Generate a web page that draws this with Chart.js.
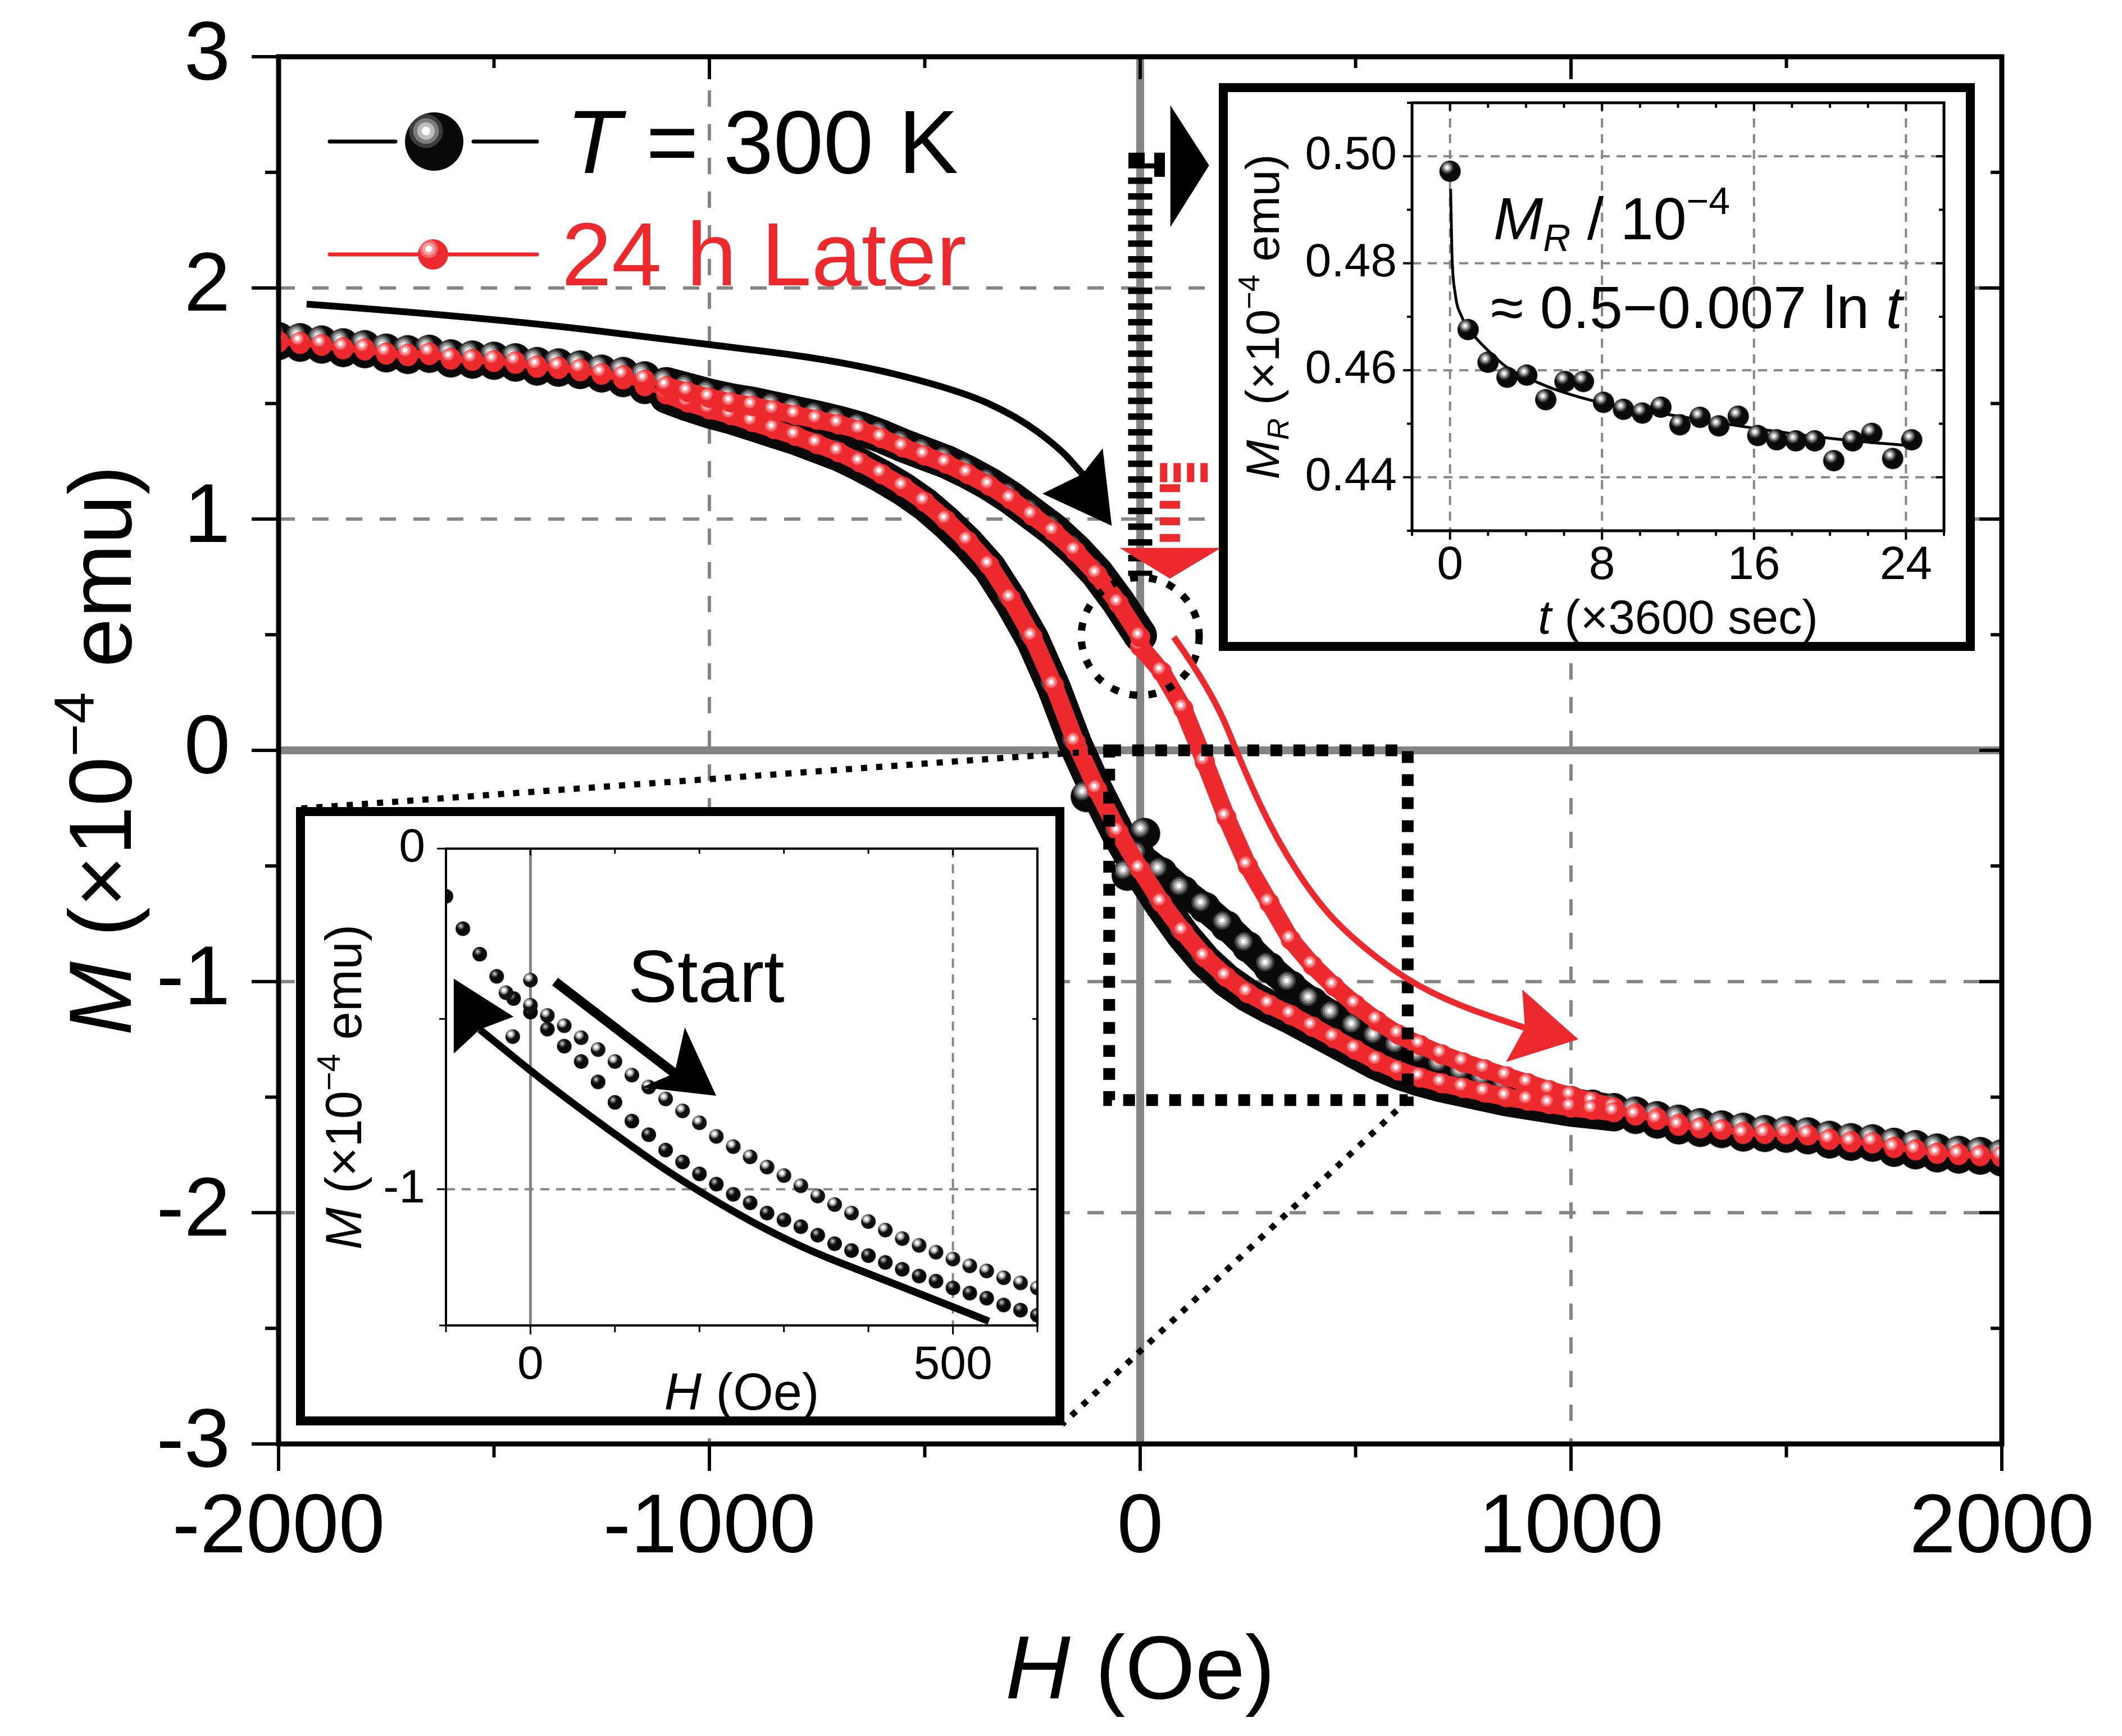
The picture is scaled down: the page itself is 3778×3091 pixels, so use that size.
<!DOCTYPE html>
<html>
<head>
<meta charset="utf-8">
<title>M-H loop at 300 K and 24 h later</title>
<script src="https://cdn.jsdelivr.net/npm/chart.js@4.4.1/dist/chart.umd.min.js"></script>
<style>
  html, body { margin: 0; padding: 0; background: #fff; }
  #wrap { position: relative; width: 3778px; height: 3091px; overflow: hidden; background: #fff; }
  canvas { position: absolute; }
</style>
</head>
<body>
<div id="wrap">
  <canvas id="main" width="3778" height="3091" style="left:0;top:0"></canvas>
  <canvas id="decay" width="1346" height="1011" style="left:2170px;top:148px"></canvas>
  <canvas id="zoomIn" width="1368" height="1101" style="left:527px;top:1437px"></canvas>
</div>
<script>
const FONT = "'Liberation Sans', Arial, Helvetica, sans-serif";
const RED = '#ec2a2d';
const GRID = '#858585';

// ---- main loop: field H (Oe) and moment M (x1e-4 emu) ----
const fieldSweep = [-2000, -1950, -1900, -1850, -1800, -1750, -1700, -1650, -1600, -1550,
  -1500, -1450, -1400, -1350, -1300, -1250, -1200, -1150, -1100, -1050,
  -1000, -950, -900, -850, -800, -750, -700, -650, -600, -550,
  -500, -450, -400, -350, -300, -250, -200, -150, -100, -50,
  0,
  50, 100, 150, 200, 250, 300, 350, 400, 450, 500,
  550, 600, 650, 700, 750, 800, 850, 900, 950, 1000,
  1050, 1100, 1150, 1200, 1250, 1300, 1350, 1400, 1450, 1500,
  1550, 1600, 1650, 1700, 1750, 1800, 1850, 1900, 1950, 2000];

// T = 300 K, return branch (swept 2000 -> -2000), listed by ascending H
const blackLowerM = [1.755, 1.748, 1.74, 1.725, 1.72, 1.702, 1.695, 1.7, 1.68, 1.675,
  1.67, 1.662, 1.645, 1.64, 1.63, 1.615, 1.595, 1.565, 1.53, 1.495,
  1.465, 1.44, 1.41, 1.38, 1.35, 1.315, 1.28, 1.235, 1.185, 1.13,
  1.065, 0.985, 0.895, 0.79, 0.645, 0.48, 0.27, 0.025, -0.18, -0.365,
  -0.525,
  -0.67, -0.8, -0.91, -0.995, -1.06, -1.11, -1.155, -1.205, -1.255, -1.305,
  -1.355, -1.395, -1.425, -1.45, -1.47, -1.49, -1.51, -1.525, -1.54, -1.555,
  -1.565, -1.575, -1.592, -1.612, -1.637, -1.648, -1.653, -1.668, -1.67, -1.673,
  -1.68, -1.698, -1.708, -1.712, -1.734, -1.745, -1.758, -1.763, -1.768, -1.776];
// T = 300 K, upper branch H = -2000 .. 0 (ends at the remanence point)
const blackUpperM = [1.785, 1.78, 1.77, 1.758, 1.75, 1.735, 1.728, 1.73, 1.71, 1.705,
  1.7, 1.693, 1.677, 1.671, 1.662, 1.644, 1.634, 1.615, 1.585, 1.56,
  1.535, 1.515, 1.5, 1.48, 1.46, 1.44, 1.418, 1.392, 1.358, 1.318,
  1.283, 1.248, 1.203, 1.152, 1.092, 1.022, 0.952, 0.866, 0.766, 0.64,
  0.497];
// T = 300 K, first sweep H = 0 .. 2000
const blackInitialM = [-0.46, -0.53, -0.61, -0.68, -0.76, -0.85, -0.94, -1.02, -1.09, -1.15,
  -1.205, -1.25, -1.29, -1.33, -1.37, -1.405, -1.43, -1.455, -1.48, -1.5,
  -1.52, -1.535, -1.55, -1.565, -1.585, -1.6, -1.615, -1.625, -1.635, -1.645,
  -1.65, -1.655, -1.67, -1.68, -1.685, -1.7, -1.71, -1.725, -1.735, -1.74,
  -1.75];
const blackStartH = [10, -30, -125];
const blackStartM = [-0.36, -0.54, -0.2];

// 24 h later: H = 0 .. 2000, then return branch, then upper branch
const redRiseM = [0.45, 0.34, 0.18, -0.05, -0.29, -0.5, -0.66, -0.82, -0.93, -1.02,
  -1.1, -1.17, -1.23, -1.275, -1.315, -1.35, -1.38, -1.41, -1.44, -1.47,
  -1.495, -1.52, -1.545, -1.57, -1.59, -1.615, -1.63, -1.64, -1.65, -1.655,
  -1.66, -1.665, -1.68, -1.69, -1.7, -1.715, -1.725, -1.74, -1.745, -1.75,
  -1.76];
const redLowerM = [1.765, 1.758, 1.75, 1.735, 1.73, 1.712, 1.705, 1.71, 1.69, 1.685,
  1.68, 1.672, 1.655, 1.65, 1.64, 1.625, 1.605, 1.575, 1.54, 1.505,
  1.475, 1.45, 1.42, 1.39, 1.36, 1.325, 1.29, 1.245, 1.195, 1.14,
  1.075, 0.995, 0.905, 0.8, 0.655, 0.49, 0.28, 0.035, -0.17, -0.355,
  -0.515,
  -0.66, -0.785, -0.895, -0.98, -1.05, -1.1, -1.145, -1.195, -1.245, -1.295,
  -1.345, -1.385, -1.415, -1.44, -1.46, -1.48, -1.5, -1.515, -1.53, -1.545,
  -1.555, -1.565, -1.579, -1.598, -1.624, -1.635, -1.64, -1.659, -1.659, -1.659,
  -1.664, -1.685, -1.695, -1.695, -1.72, -1.73, -1.745, -1.75, -1.755, -1.755];
const redUpperM = [1.77, 1.766, 1.757, 1.743, 1.738, 1.72, 1.715, 1.72, 1.697, 1.692,
  1.687, 1.682, 1.664, 1.659, 1.65, 1.631, 1.622, 1.603, 1.575, 1.55,
  1.525, 1.505, 1.49, 1.47, 1.45, 1.43, 1.41, 1.385, 1.35, 1.31,
  1.275, 1.24, 1.195, 1.145, 1.085, 1.015, 0.945, 0.86, 0.76, 0.635,
  0.49];

// ---- inset: remanence decay ----
const decayHours = [0, 0.95, 2.0, 3.0, 4.04, 5.04, 6.05, 7.02, 8.08, 9.13, 10.12, 11.1, 12.1,
  13.16, 14.15, 15.17, 16.2, 17.2, 18.2, 19.2, 20.2, 21.2, 22.2, 23.3, 24.3];
const decayMR = [0.4972, 0.4676, 0.4615, 0.4587, 0.4591, 0.4545, 0.4579, 0.4579, 0.454, 0.4527,
  0.452, 0.4531, 0.4498, 0.4512, 0.4496, 0.4514, 0.4478, 0.447, 0.4468, 0.4468,
  0.4431, 0.4468, 0.4482, 0.4435, 0.447];
const fitHours = [0.03, 0.1, 0.27, 0.62, 1.14, 2.0, 3.05, 4.37, 5.7, 8.1, 11.0, 13.6, 16.3, 19.0, 21.6, 24.2];
const fitMR = [0.4939, 0.4818, 0.4744, 0.47, 0.467, 0.4637, 0.4604, 0.4581, 0.4562, 0.4538,
  0.452, 0.4505, 0.449, 0.4477, 0.4467, 0.4459];

// ---- inset: low-field start of the first sweep ----
const startField = [-100, -80, -60, -40, -20, 0, 20, 40, 60, 80, 100, 120, 140, 160, 180, 200,
  220, 240, 260, 280, 300, 320, 340, 360, 380, 400, 420, 440, 460, 480, 500, 520, 540, 560, 580, 600];
const startLowerM = [-0.14, -0.235, -0.31, -0.375, -0.44, -0.48, -0.53, -0.58, -0.625, -0.685,
  -0.745, -0.8, -0.84, -0.885, -0.92, -0.955, -0.985, -1.015, -1.04, -1.07,
  -1.09, -1.11, -1.135, -1.16, -1.18, -1.195, -1.215, -1.235, -1.255, -1.27,
  -1.29, -1.305, -1.32, -1.34, -1.355, -1.37];
const startUpperM = [-0.46, -0.49, -0.52, -0.555, -0.59, -0.625, -0.665, -0.7, -0.735, -0.77,
  -0.805, -0.845, -0.875, -0.905, -0.935, -0.96, -0.99, -1.02, -1.045, -1.07,
  -1.095, -1.12, -1.145, -1.165, -1.185, -1.205, -1.225, -1.24, -1.26, -1.275, -1.29];
const startOddH = [-29, -21, 0];
const startOddM = [-0.423, -0.552, -0.386];

// ---- helpers ----
const pts = (hs, ms) => hs.map((h, i) => ({ x: h, y: ms[i] }));
const rev = a => a.slice().reverse();
const negField = fieldSweep.slice(0, 41);
const posField = fieldSweep.slice(40);

const blackLoop = pts(rev(fieldSweep), rev(blackLowerM)).concat(pts(negField, blackUpperM));
const blackInit = pts(posField, blackInitialM);
const redLoop = pts(posField, redRiseM).concat(pts(rev(fieldSweep), rev(redLowerM)), pts(negField, redUpperM));

function sphere(r, body, rings) {
  const c = document.createElement('canvas');
  const s = Math.ceil(r * 2 + 2);
  c.width = c.height = s;
  const g = c.getContext('2d');
  const cx = s / 2, cy = s / 2;
  g.beginPath(); g.arc(cx, cy, r, 0, Math.PI * 2);
  g.fillStyle = body; g.fill();
  g.save(); g.clip();
  rings.forEach(([f, col]) => {
    g.beginPath(); g.arc(cx - 0.28 * r, cy - 0.36 * r, f * r, 0, Math.PI * 2);
    g.fillStyle = col; g.fill();
  });
  g.restore();
  return c;
}
const blackRings = [[0.58, '#3c3c3c'], [0.44, '#7d7d7d'], [0.3, '#bdbdbd'], [0.15, '#ffffff']];
const redRings = [[0.6, '#f0666a'], [0.42, '#f6a0a2'], [0.22, '#ffffff']];
const blackBall = sphere(28, '#0a0a0a', blackRings);
const redBall = sphere(18, RED, redRings);
const legendBlack = sphere(52, '#0a0a0a', blackRings);
const legendRed = sphere(27, RED, redRings);
const decayBall = sphere(19, '#0a0a0a', blackRings);
const upBall = sphere(13, '#111111', [[0.62, '#6e6e6e'], [0.45, '#b4b4b4'], [0.25, '#ffffff']]);
const lowBall = sphere(13, '#0a0a0a', [[0.5, '#3a3a3a'], [0.32, '#7a7a7a'], [0.16, '#bcbcbc']]);

// thick band where the measurement is dense, thin string where the points are sparse
const bandWidth = (inner, outer) => c =>
  (Math.abs(c.p0.parsed.x) < 1150 && Math.abs(c.p1.parsed.x) < 1150) ? inner : outer;

function line(ctx, x0, y0, x1, y1) { ctx.beginPath(); ctx.moveTo(x0, y0); ctx.lineTo(x1, y1); ctx.stroke(); }

function richText(ctx, parts, x, y, size, align) {
  const fontOf = p => (p.it ? 'italic ' : '') + Math.round((p.sup || p.sub) ? size * 0.64 : size) + 'px ' + FONT;
  const widths = parts.map(p => { ctx.font = fontOf(p); return ctx.measureText(p.t).width; });
  const total = widths.reduce((s, w) => s + w, 0);
  let cx = align === 'center' ? x - total / 2 : x;
  ctx.textAlign = 'left'; ctx.textBaseline = 'alphabetic';
  parts.forEach((p, i) => {
    ctx.font = fontOf(p);
    const dy = p.sup ? -0.42 * size : p.sub ? 0.2 * size : 0;
    ctx.fillText(p.t, cx, y + dy);
    cx += widths[i];
  });
}

function drawGrid(chart, g) {
  const { ctx, chartArea: a, scales: { x, y } } = chart;
  ctx.save();
  ctx.strokeStyle = g.color;
  x.ticks.forEach(t => {
    const kind = g.xKind(t.value);
    if (!kind) return;
    const px = x.getPixelForValue(t.value);
    ctx.lineWidth = kind === 'solid' ? g.solid : g.width;
    ctx.setLineDash(kind === 'solid' ? [] : g.dash);
    line(ctx, px, a.top, px, a.bottom);
  });
  y.ticks.forEach(t => {
    const kind = g.yKind(t.value);
    if (!kind) return;
    const py = y.getPixelForValue(t.value);
    ctx.lineWidth = kind === 'solid' ? g.solid : g.width;
    ctx.setLineDash(kind === 'solid' ? [] : g.dash);
    line(ctx, a.left, py, a.right, py);
  });
  ctx.restore();
}

function drawFrame(chart, f) {
  const { ctx, chartArea: a, scales: { x, y } } = chart;
  ctx.save();
  ctx.strokeStyle = '#000'; ctx.setLineDash([]); ctx.lineCap = 'butt';
  ctx.lineWidth = f.tick;
  x.ticks.forEach(t => {
    const px = x.getPixelForValue(t.value);
    const major = f.xMajor(t.value);
    line(ctx, px, a.bottom, px, a.bottom + (major ? f.outMajor : f.outMinor));
    line(ctx, px, a.top, px, a.top + (major ? f.inMajor : f.inMinor));
  });
  y.ticks.forEach(t => {
    const py = y.getPixelForValue(t.value);
    const major = f.yMajor(t.value);
    line(ctx, a.left, py, a.left - (major ? f.outMajor : f.outMinor), py);
    line(ctx, a.right, py, a.right - (major ? f.inMajor : f.inMinor), py);
  });
  ctx.lineWidth = f.frame;
  ctx.strokeRect(a.left, a.top, a.right - a.left, a.bottom - a.top);
  ctx.restore();
}

function drawArrow(ctx, shaft, head, width, color) {
  ctx.save();
  ctx.strokeStyle = color; ctx.fillStyle = color; ctx.lineWidth = width;
  ctx.lineCap = 'butt'; ctx.lineJoin = 'round'; ctx.setLineDash([]);
  ctx.beginPath(); ctx.moveTo(shaft[0][0], shaft[0][1]);
  for (let i = 1; i < shaft.length - 1; i++) {
    const mx = (shaft[i][0] + shaft[i + 1][0]) / 2, my = (shaft[i][1] + shaft[i + 1][1]) / 2;
    ctx.quadraticCurveTo(shaft[i][0], shaft[i][1], mx, my);
  }
  const e = shaft[shaft.length - 1];
  ctx.lineTo(e[0], e[1]); ctx.stroke();
  ctx.beginPath(); ctx.moveTo(head[0][0], head[0][1]);
  head.slice(1).forEach(p => ctx.lineTo(p[0], p[1]));
  ctx.closePath(); ctx.fill();
  ctx.restore();
}

function boxBorder(chart, w) {
  const { ctx, width, height } = chart;
  ctx.save();
  ctx.setLineDash([]); ctx.strokeStyle = '#000'; ctx.lineWidth = w;
  ctx.strokeRect(w / 2, w / 2, width - w, height - w);
  ctx.restore();
}
const whiteBack = {
  id: 'whiteBack',
  beforeDraw(chart) { const c = chart.ctx; c.save(); c.fillStyle = '#fff'; c.fillRect(0, 0, chart.width, chart.height); c.restore(); }
};

Chart.defaults.font.family = FONT;
Chart.defaults.color = '#000';

// ---------------- main chart ----------------
const mainDecor = {
  id: 'mainDecor',
  beforeDatasetsDraw(chart) {
    drawGrid(chart, {
      color: GRID, width: 6, solid: 14, dash: [29, 31],
      xKind: v => v === 0 ? 'solid' : (v % 1000 === 0 && Math.abs(v) < 2000 ? 'dash' : null),
      yKind: v => v === 0 ? 'solid' : (Number.isInteger(v) && Math.abs(v) < 3 ? 'dash' : null)
    });
  },
  afterDatasetsDraw(chart) {
    const { ctx, chartArea: a, scales: { x, y } } = chart;
    const P = (h, m) => [x.getPixelForValue(h), y.getPixelForValue(m)];
    ctx.save();
    ctx.strokeStyle = '#000'; ctx.fillStyle = '#000'; ctx.lineCap = 'butt';

    // dotted zoom window and its leaders to the lower inset
    const [rx0, ry0] = P(-72, 0), [rx1, ry1] = P(621, -1.513);
    ctx.setLineDash([11, 16]); ctx.lineWidth = 11;
    line(ctx, rx0, ry0, 530, 1440);
    line(ctx, rx1, ry1, 1891, 2536);
    ctx.setLineDash([21, 20]); ctx.lineWidth = 21;
    ctx.strokeRect(rx0, ry0, rx1 - rx0, ry1 - ry0);

    // dotted circle around the remanence point
    const [cx, cy] = P(0, 0.493);
    ctx.setLineDash([14, 20]); ctx.lineWidth = 13;
    ctx.beginPath(); ctx.arc(cx, cy, 105, 0, Math.PI * 2); ctx.stroke();

    // black ladder above H = 0
    const [lx, ly0] = P(0, 2.478), [, ly1] = P(0, 0.755);
    ctx.setLineDash([11.5, 16.5]); ctx.lineWidth = 43;
    line(ctx, lx, ly0, lx, ly1);
    ctx.setLineDash([]);
    const by = y.getPixelForValue(2.585);
    ctx.fillRect(lx - 21, by, 29, 28);
    ctx.fillRect(lx + 8, by + 19, 17, 9);
    ctx.fillRect(lx + 25, by, 19, 43);
    const t1 = P(70, 2.79), t2 = P(70, 2.263), t3 = P(160, 2.53);
    ctx.beginPath(); ctx.moveTo(t1[0], t1[1]); ctx.lineTo(t2[0], t2[1]); ctx.lineTo(t3[0], t3[1]); ctx.closePath(); ctx.fill();

    // red ladder and drop arrow
    ctx.strokeStyle = RED; ctx.fillStyle = RED;
    const [qx, qy0] = P(69, 1.151), [, qy1] = P(69, 0.901);
    ctx.setLineDash([14, 15.5]); ctx.lineWidth = 36;
    line(ctx, qx, qy0, qx, qy1);
    const [hx0, hy] = P(46, 1.201), [hx1] = P(167, 1.201);
    ctx.setLineDash([13, 11]); ctx.lineWidth = 34;
    line(ctx, hx0, hy, hx1, hy);
    ctx.setLineDash([]);
    const r1 = P(-48, 0.876), r2 = P(188, 0.876), r3 = P(69, 0.743);
    ctx.beginPath(); ctx.moveTo(r1[0], r1[1]); ctx.lineTo(r2[0], r2[1]); ctx.lineTo(r3[0], r3[1]); ctx.closePath(); ctx.fill();
    ctx.restore();

    // sweep arrows
    drawArrow(ctx,
      [[-1935, 1.93], [-1521, 1.873], [-1023, 1.761], [-686, 1.682], [-420, 1.557], [-287, 1.445], [-186, 1.306], [-134, 1.195]].map(p => P(p[0], p[1])),
      [[-66, 0.971], [-87, 1.306], [-134, 1.195], [-227, 1.11]].map(p => P(p[0], p[1])), 12, '#000');
    drawArrow(ctx,
      [[78, 0.49], [168, 0.255], [243, -0.095], [318, -0.39], [407, -0.646], [490, -0.81], [615, -0.99], [740, -1.105], [893, -1.2]].map(p => P(p[0], p[1])),
      [[1017, -1.25], [887, -1.035], [893, -1.2], [849, -1.348]].map(p => P(p[0], p[1])), 11, RED);

    drawFrame(chart, {
      frame: 9, tick: 6, outMajor: 48, outMinor: 24, inMajor: 40, inMinor: 20,
      xMajor: v => v % 1000 === 0, yMajor: v => Number.isInteger(v)
    });

    // axis titles
    ctx.save();
    ctx.fillStyle = '#000';
    richText(ctx, [{ t: 'H', it: true }, { t: ' (Oe)' }], (a.left + a.right) / 2, 3024, 160, 'center');
    ctx.translate(233, (a.top + a.bottom) / 2);
    ctx.rotate(-Math.PI / 2);
    richText(ctx, [{ t: 'M', it: true }, { t: ' (×10' }, { t: '−4', sup: true }, { t: ' emu)' }], 0, 0, 158, 'center');
    ctx.restore();

    // legend
    ctx.save();
    ctx.lineCap = 'round'; ctx.lineWidth = 7;
    ctx.strokeStyle = '#000';
    line(ctx, 587, 252, 704, 252); line(ctx, 843, 252, 956, 252);
    ctx.drawImage(legendBlack, 773 - legendBlack.width / 2, 252 - legendBlack.height / 2);
    ctx.strokeStyle = RED;
    line(ctx, 587, 453, 956, 453);
    ctx.drawImage(legendRed, 771 - legendRed.width / 2, 453 - legendRed.height / 2);
    ctx.fillStyle = '#000';
    richText(ctx, [{ t: 'T', it: true }, { t: ' = 300 K' }], 1008, 308, 160, 'left');
    ctx.fillStyle = RED;
    richText(ctx, [{ t: '24 h Later' }], 1000, 508, 160, 'left');
    ctx.restore();
  }
};

new Chart(document.getElementById('main'), {
  type: 'scatter',
  data: {
    datasets: [
      { label: '24 h Later', data: redLoop, showLine: true, borderColor: RED, borderWidth: 32,
        segment: { borderWidth: bandWidth(32, 10) },
        pointStyle: redBall, pointRadius: 18, order: 0, clip: 0 },
      { label: 'T = 300 K, first sweep', data: blackInit, showLine: true, borderColor: '#0a0a0a', borderWidth: 50,
        segment: { borderWidth: bandWidth(50, 20) },
        pointStyle: blackBall, pointRadius: 28, order: 1, clip: 0 },
      { label: 'T = 300 K, first points', data: pts(blackStartH, blackStartM), showLine: false,
        pointStyle: blackBall, pointRadius: 28, order: 1, clip: 0 },
      { label: 'T = 300 K', data: blackLoop, showLine: true, borderColor: '#0a0a0a', borderWidth: 60,
        segment: { borderWidth: bandWidth(60, 22) },
        pointStyle: blackBall, pointRadius: 28, order: 2, clip: 0 }
    ]
  },
  options: {
    responsive: false, animation: false, devicePixelRatio: 1, events: [],
    layout: { padding: { left: 0, top: 101, right: 214, bottom: 0 } },
    plugins: { legend: { display: false }, tooltip: { enabled: false } },
    elements: {
      line: { borderJoinStyle: 'round', borderCapStyle: 'round', tension: 0 },
      point: { borderWidth: 0 }
    },
    scales: {
      x: {
        type: 'linear', min: -2000, max: 2000,
        grid: { display: false, drawTicks: false }, border: { display: false },
        ticks: { stepSize: 500, autoSkip: false, maxRotation: 0, minRotation: 0, padding: 63,
          font: { family: FONT, size: 148 }, color: '#000',
          callback: v => v % 1000 === 0 ? String(v) : '' },
        afterFit: s => { s.height = 520; s.paddingLeft = 0; s.paddingRight = 0; }
      },
      y: {
        type: 'linear', min: -3, max: 3,
        grid: { display: false, drawTicks: false }, border: { display: false },
        ticks: { stepSize: 0.5, autoSkip: false, padding: 86,
          font: { family: FONT, size: 148 }, color: '#000',
          callback: v => Number.isInteger(v) ? String(v) : '' },
        afterFit: s => { s.width = 496; s.paddingTop = 0; s.paddingBottom = 0; }
      }
    }
  },
  plugins: [mainDecor]
});

// ---------------- inset: remanence decay ----------------
const decayDecor = {
  id: 'decayDecor',
  beforeDatasetsDraw(chart) {
    drawGrid(chart, {
      color: GRID, width: 4, solid: 4, dash: [16, 12],
      xKind: v => (v % 8 === 0 && v >= 0 && v <= 24) ? 'dash' : null,
      yKind: v => { const k = Math.round(v * 100); return (k % 2 === 0 && k >= 44 && k <= 50) ? 'dash' : null; }
    });
  },
  afterDatasetsDraw(chart) {
    const { ctx, chartArea: a } = chart;
    drawFrame(chart, {
      frame: 5, tick: 4, outMajor: 16, outMinor: 9, inMajor: 14, inMinor: 9,
      xMajor: v => v % 8 === 0, yMajor: v => Math.round(v * 100) % 2 === 0
    });
    ctx.save();
    ctx.fillStyle = '#000';
    richText(ctx, [{ t: 't', it: true }, { t: ' (×3600 sec)' }], (a.left + a.right) / 2, 980, 85, 'center');
    richText(ctx, [{ t: 'M', it: true }, { t: 'R', it: true, sub: true }, { t: ' / 10' }, { t: '−4', sup: true }], 489, 278, 106, 'left');
    richText(ctx, [{ t: '≈ 0.5−0.007 ln ' }, { t: 't', it: true }], 484, 436, 106, 'left');
    ctx.translate(107, (a.top + a.bottom) / 2);
    ctx.rotate(-Math.PI / 2);
    richText(ctx, [{ t: 'M', it: true }, { t: 'R', it: true, sub: true }, { t: ' (×10' }, { t: '−4', sup: true }, { t: ' emu)' }], 0, 0, 84, 'center');
    ctx.restore();
    boxBorder(chart, 16);
  }
};

new Chart(document.getElementById('decay'), {
  type: 'scatter',
  data: {
    datasets: [
      { label: 'M_R', data: pts(decayHours, decayMR), pointStyle: decayBall, pointRadius: 19, order: 0 },
      { label: 'fit', data: pts(fitHours, fitMR), showLine: true, borderColor: '#000', borderWidth: 5,
        pointRadius: 0, cubicInterpolationMode: 'monotone', order: 1 }
    ]
  },
  options: {
    responsive: false, animation: false, devicePixelRatio: 1, events: [],
    layout: { padding: { left: 0, top: 35, right: 55, bottom: 0 } },
    plugins: { legend: { display: false }, tooltip: { enabled: false } },
    elements: { point: { borderWidth: 0 } },
    scales: {
      x: {
        type: 'linear', min: -2, max: 26,
        grid: { display: false, drawTicks: false }, border: { display: false },
        ticks: { stepSize: 2, autoSkip: false, maxRotation: 0, padding: 12,
          font: { family: FONT, size: 84 }, color: '#000',
          callback: v => (v % 8 === 0 && v >= 0 && v <= 24) ? String(v) : '' },
        afterFit: s => { s.height = 214; s.paddingLeft = 0; s.paddingRight = 0; }
      },
      y: {
        type: 'linear', min: 0.43, max: 0.51,
        grid: { display: false, drawTicks: false }, border: { display: false },
        ticks: { stepSize: 0.01, autoSkip: false, padding: 27,
          font: { family: FONT, size: 84 }, color: '#000',
          callback: v => { const k = Math.round(v * 100); return (k % 2 === 0 && k >= 44 && k <= 50) ? (k / 100).toFixed(2) : ''; } },
        afterFit: s => { s.width = 344; s.paddingTop = 0; s.paddingBottom = 0; }
      }
    }
  },
  plugins: [whiteBack, decayDecor]
});

// ---------------- inset: start of the first sweep ----------------
const startDecor = {
  id: 'startDecor',
  beforeDatasetsDraw(chart) {
    drawGrid(chart, {
      color: GRID, width: 4, solid: 5, dash: [16, 12],
      xKind: v => v === 0 ? 'solid' : (v === 500 ? 'dash' : null),
      yKind: v => v === -1 ? 'dash' : null
    });
  },
  afterDatasetsDraw(chart) {
    const { ctx, chartArea: a, scales: { x, y } } = chart;
    const P = (h, m) => [x.getPixelForValue(h), y.getPixelForValue(m)];
    drawArrow(ctx, [[29.1, -0.3904], [170.5, -0.6596]].map(p => P(p[0], p[1])),
      [[219.8, -0.7257], [182.7, -0.5248], [170.5, -0.6596], [131.9, -0.7009]].map(p => P(p[0], p[1])), 17, '#000');
    drawArrow(ctx,
      [[542.6, -1.3875], [428.9, -1.2756], [305.9, -1.1578], [182.8, -0.984], [90.6, -0.8226], [10.6, -0.6736], [-38.6, -0.574], [-60, -0.531]].map(p => P(p[0], p[1])),
      [[-90.8, -0.3819], [-90.8, -0.6017], [-60, -0.531], [-20, -0.4934]].map(p => P(p[0], p[1])), 13, '#000');
    drawFrame(chart, {
      frame: 4, tick: 3, outMajor: 16, outMinor: 12, inMajor: 12, inMinor: 9,
      xMajor: v => v === 0 || v === 500, yMajor: v => v === 0 || v === -1
    });
    ctx.save();
    ctx.fillStyle = '#000';
    richText(ctx, [{ t: 'Start' }], 591, 347, 132, 'left');
    richText(ctx, [{ t: 'H', it: true }, { t: ' (Oe)' }], (a.left + a.right) / 2, 1073, 92, 'center');
    ctx.translate(116, (a.top + a.bottom) / 2);
    ctx.rotate(-Math.PI / 2);
    richText(ctx, [{ t: 'M', it: true }, { t: ' (×10' }, { t: '−4', sup: true }, { t: ' emu)' }], 0, 0, 90, 'center');
    ctx.restore();
    boxBorder(chart, 16);
  }
};

new Chart(document.getElementById('zoomIn'), {
  type: 'scatter',
  data: {
    datasets: [
      { label: 'first sweep', data: pts(startField.slice(5), startUpperM), pointStyle: upBall, pointRadius: 13, order: 0, clip: 0 },
      { label: 'first points', data: pts(startOddH, startOddM), pointStyle: upBall, pointRadius: 13, order: 0, clip: 0 },
      { label: 'return sweep', data: pts(startField, startLowerM), pointStyle: lowBall, pointRadius: 13, order: 1, clip: 0 }
    ]
  },
  options: {
    responsive: false, animation: false, devicePixelRatio: 1, events: [],
    layout: { padding: { left: 0, top: 74, right: 48, bottom: 0 } },
    plugins: { legend: { display: false }, tooltip: { enabled: false } },
    elements: { point: { borderWidth: 0 } },
    scales: {
      x: {
        type: 'linear', min: -100, max: 600,
        grid: { display: false, drawTicks: false }, border: { display: false },
        ticks: { stepSize: 100, autoSkip: false, maxRotation: 0, padding: 21,
          font: { family: FONT, size: 84 }, color: '#000',
          callback: v => (v === 0 || v === 500) ? String(v) : '' },
        afterFit: s => { s.height = 178; s.paddingLeft = 0; s.paddingRight = 0; }
      },
      y: {
        type: 'linear', min: -1.4, max: 0,
        grid: { display: false, drawTicks: false }, border: { display: false },
        ticks: { stepSize: 0.5, autoSkip: false, padding: 37,
          font: { family: FONT, size: 84 }, color: '#000',
          callback: v => v === 0 ? '0' : (v === -1 ? '-1' : '') },
        afterFit: s => { s.width = 267; s.paddingTop = 0; s.paddingBottom = 0; }
      }
    }
  },
  plugins: [whiteBack, startDecor]
});
</script>
</body>
</html>
